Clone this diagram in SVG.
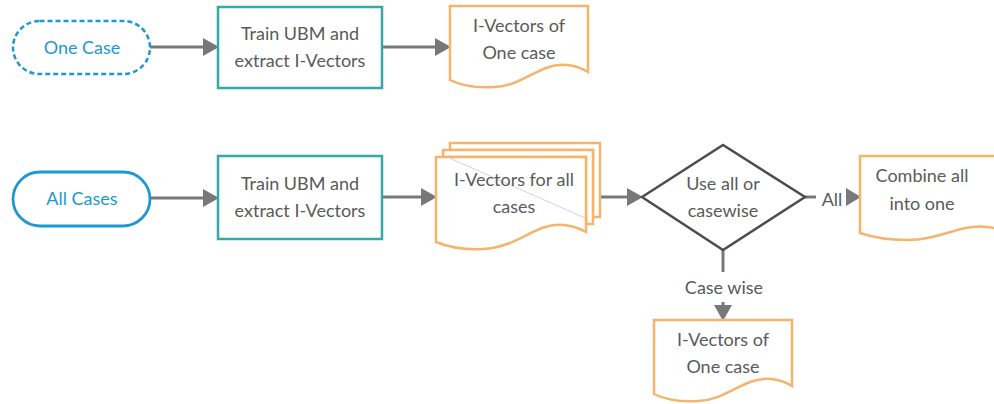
<svg xmlns="http://www.w3.org/2000/svg" width="994" height="404" viewBox="0 0 994 404">
<defs>
<style>
.t{font-family:Lato,"Open Sans","Liberation Sans",sans-serif;font-size:18px;fill:#5a5a5a;text-anchor:middle}
.tb{font-family:Lato,"Open Sans","Liberation Sans",sans-serif;font-size:18px;fill:#1e98d4;text-anchor:middle}
.proc{fill:#fff;stroke:#34aaa6;stroke-width:2.5}
.doc{fill:#fff;stroke:#f5b36c;stroke-width:2.5}
.conn{fill:none;stroke:#787878;stroke-width:3}
.head{fill:#787878}
</style>
<path id="docshape" d="M0,0 H138 V66 C126,59 112,56 96,62 C80,68 66,80 44,81 C25,82 10,79 0,74 Z"/>
</defs>
<rect width="994" height="404" fill="#fff"/>

<g id="connectors">
<line class="conn" x1="150" y1="47" x2="206" y2="47"/>
<polygon class="head" points="203,38 219,47 203,56"/>
<line class="conn" x1="382" y1="47" x2="438" y2="47"/>
<polygon class="head" points="435,38 451,47 435,56"/>
<line class="conn" x1="150" y1="198" x2="206" y2="198"/>
<polygon class="head" points="203,189 219,198 203,207"/>
<line class="conn" x1="382" y1="197" x2="424" y2="197"/>
<polygon class="head" points="421,188 437,197 421,206"/>
<line class="conn" x1="601" y1="197" x2="630" y2="197"/>
<polygon class="head" points="627,188 643,197 627,206"/>
<line class="conn" x1="805" y1="197" x2="816" y2="197"/>
<text class="t" x="832" y="206">All</text>
<polygon class="head" points="846,188 861,197 846,206"/>
<line class="conn" x1="723" y1="250" x2="723" y2="272"/>
<text class="t" x="724" y="294">Case wise</text>
<line class="conn" x1="723" y1="302" x2="723" y2="310"/>
<polygon class="head" points="714,305 732,305 723,321"/>
</g>

<g id="one-case">
<rect x="13" y="21" width="137" height="53" rx="26.5" fill="#fff" stroke="#1e98d4" stroke-width="2.5" stroke-dasharray="5,3"/>
<text class="tb" x="82" y="54">One Case</text>
</g>

<g id="train1">
<rect class="proc" x="218" y="7" width="164" height="81"/>
<text class="t" x="300" y="40">Train UBM and</text>
<text class="t" x="300" y="67">extract I-Vectors</text>
</g>

<g id="ivec-one-top">
<use href="#docshape" class="doc" transform="translate(450,6)"/>
<text class="t" x="519" y="32">I-Vectors of</text>
<text class="t" x="519" y="59">One case</text>
</g>

<g id="all-cases">
<rect x="13" y="172" width="137" height="54" rx="27" fill="#fff" stroke="#1e98d4" stroke-width="2.8"/>
<text class="tb" x="82" y="205">All Cases</text>
</g>

<g id="train2">
<rect class="proc" x="218" y="156" width="164" height="83"/>
<text class="t" x="300" y="190">Train UBM and</text>
<text class="t" x="300" y="217">extract I-Vectors</text>
</g>

<g id="ivec-all">
<path class="doc" d="M450,143 H600 V217 L593,217 L593,150 L450,150 Z"/>
<path class="doc" d="M443,150 H593 V224 L586,224 L586,157 L443,157 Z"/>
<path class="doc" d="M436,157 H586 V232 C573,225 558,222 542,228 C524,235 508,248 483,249 C463,250 448,247 436,242 Z"/>
<line x1="447" y1="157" x2="585" y2="218" stroke="#c8c8c8" stroke-width="0.8"/>
<text class="t" x="514" y="186">I-Vectors for all</text>
<text class="t" x="514" y="213">cases</text>
</g>

<g id="decision">
<polygon points="642,197 723,145 805,197 723,250" fill="#fff" stroke="#4d4d4d" stroke-width="2.5"/>
<text class="t" x="723" y="190">Use all or</text>
<text class="t" x="723" y="217">casewise</text>
</g>

<g id="combine">
<path class="doc" d="M860,156 H1000 V230 C990,226 980,225 965,228 C948,232 930,240 906,240 C886,240 872,237 860,233 Z"/>
<text class="t" x="922" y="182">Combine all</text>
<text class="t" x="922" y="210">into one</text>
</g>

<g id="ivec-one-bottom">
<use href="#docshape" class="doc" transform="translate(654,320)"/>
<text class="t" x="723" y="346">I-Vectors of</text>
<text class="t" x="723" y="373">One case</text>
</g>
</svg>
